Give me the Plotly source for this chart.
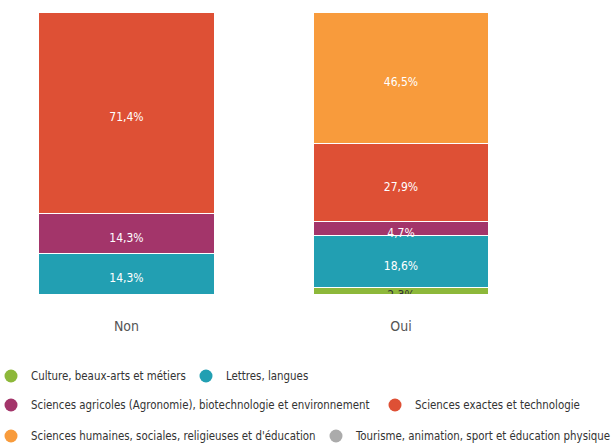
import plotly.graph_objects as go

categories = ["Non", "Oui"]
series_names = [
    "Culture, beaux-arts et métiers",
    "Lettres, langues",
    "Sciences agricoles (Agronomie), biotechnologie et environnement",
    "Sciences exactes et technologie",
    "Sciences humaines, sociales, religieuses et d'éducation",
    "Tourisme, animation, sport et éducation physique",
]
culture = [0.0, 2.3]
lettres = [14.3, 18.6]
agricoles = [14.3, 4.7]
exactes = [71.4, 27.9]
humaines = [0.0, 46.5]
tourisme = [0.0, 0.0]
series_values = [culture, lettres, agricoles, exactes, humaines, tourisme]
colors = ["#8DB83A", "#229FB2", "#A3356A", "#DE5035", "#F89B3C", "#ABABAB"]
label_colors = ["#333333", "white", "white", "white", "white", "white"]

# legend layout: (marker centre x in px, row centre y in px)
legend_pos = [(10, 376), (205, 376), (10, 405), (394, 405), (10, 436), (335, 436)]

FONT = "DejaVu Sans Condensed, sans-serif"
LABEL_SHIFT = 2.0  # small downward nudge of value labels (axis units)
W, H = 612, 448
PLOT_TOP, PLOT_BOTTOM = 12, 294

fig = go.Figure()
cum = [0.0, 0.0]
legend_layouts = {}
for i, (name, vals, col, lc) in enumerate(zip(series_names, series_values, colors, label_colors)):
    fig.add_trace(go.Bar(
        x=categories, y=vals, marker=dict(color=col, line=dict(color="white", width=1)),
        width=0.64, showlegend=False, hoverinfo="skip",
    ))
    mids = [c + v / 2 - LABEL_SHIFT for c, v in zip(cum, vals)]
    txt = [f"{v:.1f}%".replace(".", ",") if v > 0 else "" for v in vals]
    fig.add_trace(go.Scatter(
        x=categories, y=mids, mode="text", text=txt,
        textfont=dict(color=lc, size=12, family=FONT),
        textposition="middle center", showlegend=False, hoverinfo="skip",
    ))
    cum = [c + v for c, v in zip(cum, vals)]
    lg = "legend" if i == 0 else f"legend{i + 1}"
    fig.add_trace(go.Scatter(
        x=[None], y=[None], mode="markers", name=name, legend=lg,
        marker=dict(color=col, size=13, symbol="circle"),
    ))
    px, py = legend_pos[i]
    legend_layouts[lg] = dict(
        x=(px - 19) / W, y=(PLOT_BOTTOM - py) / (PLOT_BOTTOM - PLOT_TOP),
        orientation="h", xanchor="left", yanchor="middle",
        font=dict(size=11.4, family=FONT, color="#333333"),
        bgcolor="rgba(0,0,0,0)", itemwidth=30,
    )

fig.update_layout(
    width=W, height=H,
    margin=dict(l=0, r=0, t=PLOT_TOP, b=H - PLOT_BOTTOM, autoexpand=False),
    barmode="stack",
    plot_bgcolor="white", paper_bgcolor="white",
    xaxis=dict(range=[-0.4608, 1.7687], showgrid=False, zeroline=False, showline=False,
               ticks="", tickfont=dict(size=14, family=FONT, color="#555555"),
               ticklabelstandoff=22),
    yaxis=dict(range=[0, 100], visible=False),
    **legend_layouts,
)
fig.write_html("out.html", config={"displayModeBar": False},
               post_script="document.body.style.margin='0';")
